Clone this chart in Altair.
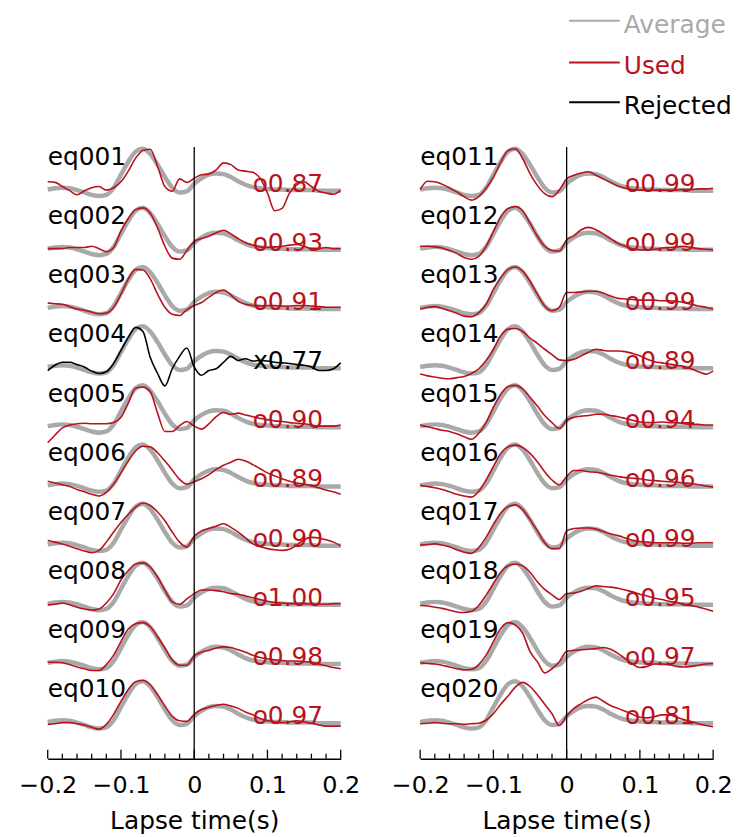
import altair as alt
import pandas as pd

# ---------------- data ----------------
T = [-0.20, -0.19, -0.18, -0.17, -0.16, -0.15, -0.14, -0.13, -0.12, -0.11,
     -0.10, -0.09, -0.08, -0.07, -0.06, -0.05, -0.04, -0.03, -0.02, -0.01,
     0.00, 0.01, 0.02, 0.03, 0.04, 0.05, 0.06, 0.07, 0.08, 0.09,
     0.10, 0.11, 0.12, 0.13, 0.14, 0.15, 0.16, 0.17, 0.18, 0.19, 0.20]

AVG = [0.00, 0.02, 0.03, 0.02, -0.01, -0.05, -0.09, -0.11, -0.09, 0.03,
       0.25, 0.47, 0.64, 0.69, 0.60, 0.42, 0.21, 0.03, -0.05, -0.03,
       0.10, 0.19, 0.25, 0.27, 0.26, 0.21, 0.14, 0.08, 0.04, 0.02,
       0.01, 0.00, 0.00, -0.01, -0.01, -0.01, -0.01, -0.02, -0.02, -0.02, -0.02]

eq001 = [0.13, 0.12, 0.05, -0.02, -0.09, -0.02, 0.03, 0.05, -0.01, 0.03, 0.13, 0.31, 0.53, 0.66, 0.68, 0.39, 0.05, -0.03, 0.18, 0.12, 0.19, 0.25, 0.26, 0.33, 0.45, 0.42, 0.33, 0.31, 0.29, 0.19, -0.06, -0.36, -0.32, -0.06, 0.08, 0.13, 0.05, -0.03, -0.06, -0.08, -0.01]
eq002 = [0.00, 0.00, 0.00, 0.02, 0.02, 0.02, 0.04, 0.00, -0.05, 0.02, 0.30, 0.51, 0.66, 0.69, 0.60, 0.35, 0.04, -0.16, -0.18, -0.03, 0.12, 0.17, 0.21, 0.27, 0.31, 0.25, 0.17, 0.10, 0.06, 0.03, 0.02, 0.03, 0.04, 0.06, 0.07, 0.04, 0.00, 0.00, 0.02, 0.00, 0.00]
eq003 = [0.08, 0.07, 0.06, 0.02, -0.02, -0.04, -0.07, -0.10, -0.09, 0.01, 0.23, 0.49, 0.65, 0.64, 0.49, 0.23, 0.01, -0.11, -0.13, -0.03, 0.04, 0.09, 0.18, 0.26, 0.30, 0.22, 0.11, 0.06, 0.04, 0.03, 0.04, 0.04, 0.03, 0.03, 0.04, 0.04, 0.03, 0.02, 0.01, 0.01, 0.01]
eq004 = [-0.06, 0.03, 0.08, 0.08, 0.04, 0.00, -0.07, -0.11, -0.08, 0.06, 0.28, 0.50, 0.67, 0.60, 0.16, -0.11, -0.32, -0.03, 0.18, 0.32, 0.00, -0.14, -0.06, -0.03, 0.08, 0.18, 0.11, 0.14, 0.10, 0.11, 0.10, 0.08, 0.07, 0.06, 0.04, 0.03, 0.00, -0.06, -0.06, -0.03, 0.07]
eq005 = [-0.28, -0.15, -0.03, 0.02, 0.04, 0.05, 0.04, 0.04, 0.04, 0.06, 0.15, 0.39, 0.64, 0.66, 0.58, 0.22, -0.09, -0.09, 0.01, 0.08, 0.00, -0.05, 0.04, 0.16, 0.23, 0.20, 0.22, 0.19, 0.16, 0.13, 0.11, 0.09, 0.08, 0.06, 0.05, 0.04, 0.02, 0.00, 0.00, 0.00, 0.02]
eq006 = [0.07, 0.04, 0.01, -0.02, -0.07, -0.11, -0.15, -0.18, -0.12, 0.02, 0.21, 0.41, 0.58, 0.66, 0.65, 0.55, 0.41, 0.26, 0.10, 0.02, 0.06, 0.11, 0.18, 0.27, 0.34, 0.39, 0.44, 0.41, 0.35, 0.28, 0.21, 0.16, 0.11, 0.07, 0.04, 0.02, -0.01, -0.04, -0.08, -0.11, -0.15]
eq007 = [0.07, 0.04, 0.01, -0.03, -0.07, -0.11, -0.14, -0.10, 0.04, 0.21, 0.37, 0.51, 0.63, 0.70, 0.66, 0.55, 0.40, 0.21, 0.04, -0.04, 0.14, 0.23, 0.27, 0.31, 0.35, 0.29, 0.21, 0.11, 0.01, -0.04, -0.07, -0.09, -0.10, -0.08, -0.01, 0.08, 0.12, 0.11, 0.08, 0.04, -0.02]
eq008 = [-0.02, -0.01, 0.01, -0.02, -0.06, -0.09, -0.11, -0.09, 0.01, 0.17, 0.40, 0.56, 0.67, 0.69, 0.62, 0.45, 0.23, 0.03, -0.01, 0.08, 0.17, 0.23, 0.23, 0.22, 0.20, 0.17, 0.16, 0.13, 0.10, 0.07, 0.04, 0.02, 0.01, 0.00, 0.00, 0.00, -0.01, -0.01, -0.01, 0.00, 0.00]
eq009 = [0.01, 0.01, 0.00, -0.03, -0.07, -0.10, -0.13, -0.13, -0.03, 0.13, 0.36, 0.57, 0.66, 0.68, 0.61, 0.44, 0.25, 0.05, -0.04, -0.04, 0.12, 0.18, 0.21, 0.25, 0.27, 0.26, 0.22, 0.18, 0.13, 0.09, 0.07, 0.05, 0.04, 0.03, 0.03, 0.02, 0.01, -0.02, -0.05, -0.08, -0.10]
eq010 = [-0.04, -0.03, -0.01, -0.01, -0.03, -0.05, -0.09, -0.12, -0.04, 0.13, 0.35, 0.55, 0.68, 0.70, 0.63, 0.46, 0.27, 0.10, 0.02, 0.01, 0.13, 0.21, 0.25, 0.28, 0.30, 0.27, 0.23, 0.17, 0.12, 0.06, 0.02, 0.00, -0.01, 0.00, 0.02, 0.00, -0.02, -0.05, -0.07, -0.07, -0.07]
eq011 = [0.00, 0.14, 0.13, 0.09, 0.03, -0.04, -0.12, -0.18, -0.12, 0.02, 0.21, 0.46, 0.66, 0.69, 0.52, 0.27, 0.07, -0.07, -0.12, -0.01, 0.18, 0.24, 0.28, 0.30, 0.24, 0.18, 0.12, 0.06, 0.02, 0.00, -0.01, -0.01, -0.01, -0.01, -0.01, -0.01, 0.00, 0.00, 0.01, 0.01, 0.02]
eq012 = [0.04, 0.04, 0.03, 0.01, -0.03, -0.08, -0.15, -0.18, -0.13, 0.04, 0.29, 0.54, 0.68, 0.71, 0.64, 0.43, 0.21, 0.04, -0.03, -0.04, 0.15, 0.22, 0.32, 0.36, 0.32, 0.25, 0.17, 0.09, 0.04, 0.00, -0.02, -0.02, -0.01, 0.01, 0.02, 0.03, 0.04, 0.02, 0.00, -0.01, -0.02]
eq013 = [-0.02, 0.01, 0.02, -0.01, -0.05, -0.09, -0.14, -0.15, -0.08, 0.06, 0.31, 0.51, 0.65, 0.69, 0.62, 0.45, 0.23, 0.03, -0.05, 0.01, 0.26, 0.26, 0.27, 0.28, 0.28, 0.25, 0.20, 0.16, 0.15, 0.14, 0.13, 0.13, 0.13, 0.12, 0.12, 0.11, 0.09, 0.06, 0.03, 0.01, -0.02]
eq014 = [-0.12, -0.15, -0.17, -0.19, -0.20, -0.18, -0.16, -0.11, -0.03, 0.11, 0.30, 0.53, 0.64, 0.65, 0.60, 0.49, 0.40, 0.30, 0.21, 0.12, 0.11, 0.13, 0.19, 0.25, 0.30, 0.28, 0.27, 0.27, 0.26, 0.23, 0.19, 0.13, 0.09, 0.07, 0.05, 0.03, 0.01, -0.03, -0.08, -0.12, -0.07]
eq015 = [0.02, -0.01, -0.04, -0.07, -0.09, -0.13, -0.18, -0.22, -0.12, 0.06, 0.32, 0.54, 0.67, 0.69, 0.63, 0.49, 0.34, 0.18, 0.06, -0.04, 0.10, 0.15, 0.17, 0.18, 0.20, 0.20, 0.18, 0.16, 0.13, 0.10, 0.07, 0.06, 0.06, 0.07, 0.06, 0.06, 0.04, 0.03, 0.03, 0.02, 0.02]
eq016 = [0.00, -0.02, -0.04, -0.07, -0.11, -0.15, -0.18, -0.20, -0.10, 0.09, 0.32, 0.54, 0.65, 0.68, 0.64, 0.54, 0.40, 0.23, 0.09, 0.01, 0.15, 0.25, 0.25, 0.23, 0.22, 0.20, 0.17, 0.15, 0.13, 0.12, 0.11, 0.09, 0.08, 0.07, 0.06, 0.05, 0.04, 0.03, 0.01, -0.01, -0.03]
eq017 = [-0.01, 0.00, 0.01, -0.01, -0.04, -0.09, -0.13, -0.15, -0.05, 0.12, 0.34, 0.53, 0.64, 0.67, 0.59, 0.42, 0.23, 0.03, -0.07, -0.07, 0.23, 0.27, 0.28, 0.28, 0.26, 0.22, 0.18, 0.15, 0.11, 0.07, 0.05, 0.04, 0.03, 0.03, 0.03, 0.03, 0.02, 0.02, 0.03, 0.03, 0.03]
eq018 = [-0.03, -0.04, -0.06, -0.08, -0.11, -0.14, -0.15, -0.13, -0.03, 0.14, 0.34, 0.53, 0.64, 0.67, 0.64, 0.53, 0.37, 0.24, 0.15, 0.07, 0.17, 0.18, 0.21, 0.26, 0.30, 0.29, 0.28, 0.26, 0.23, 0.20, 0.16, 0.13, 0.09, 0.07, 0.04, 0.02, -0.01, -0.03, -0.06, -0.09, -0.13]
eq019 = [0.00, -0.01, -0.02, -0.04, -0.07, -0.10, -0.12, -0.11, -0.03, 0.13, 0.36, 0.58, 0.68, 0.64, 0.50, 0.19, 0.02, -0.17, -0.10, 0.02, 0.19, 0.21, 0.22, 0.23, 0.24, 0.26, 0.23, 0.16, 0.07, -0.02, -0.08, -0.06, -0.02, -0.02, -0.03, -0.06, -0.07, -0.06, -0.04, -0.02, -0.01]
eq020 = [-0.03, -0.02, -0.01, -0.02, -0.03, -0.03, -0.04, -0.03, -0.02, 0.03, 0.14, 0.30, 0.44, 0.59, 0.67, 0.60, 0.46, 0.30, 0.14, -0.06, 0.10, 0.23, 0.31, 0.38, 0.42, 0.35, 0.28, 0.23, 0.18, 0.13, 0.08, 0.07, 0.09, 0.12, 0.12, 0.08, 0.04, 0.01, -0.03, -0.06, -0.08]

LEFT_NAMES = ["eq001", "eq002", "eq003", "eq004", "eq005", "eq006", "eq007", "eq008", "eq009", "eq010"]
RIGHT_NAMES = ["eq011", "eq012", "eq013", "eq014", "eq015", "eq016", "eq017", "eq018", "eq019", "eq020"]
LEFT_WAVES = [eq001, eq002, eq003, eq004, eq005, eq006, eq007, eq008, eq009, eq010]
RIGHT_WAVES = [eq011, eq012, eq013, eq014, eq015, eq016, eq017, eq018, eq019, eq020]
LEFT_CC = [0.87, 0.93, 0.91, 0.77, 0.90, 0.89, 0.90, 1.00, 0.98, 0.97]
RIGHT_CC = [0.99, 0.99, 0.99, 0.89, 0.94, 0.96, 0.99, 0.95, 0.97, 0.81]
LEFT_STATUS = ["Used", "Used", "Used", "Rejected", "Used", "Used", "Used", "Used", "Used", "Used"]
RIGHT_STATUS = ["Used"] * 10

TICK_MINOR = [-0.18, -0.16, -0.14, -0.12, -0.08, -0.06, -0.04, -0.02,
              0.02, 0.04, 0.06, 0.08, 0.12, 0.14, 0.16, 0.18]
TICK_MAJOR = [-0.2, -0.1, 0.0, 0.1, 0.2]

LEGEND_LABELS = ["Average", "Used", "Rejected"]

# ---------------- styles ----------------
GRAY = "#a9a9a9"
RED = "#b8121c"
FONT = "DejaVu Sans"
W, H = 295, 616
YDOM = [-9.62, 0.72]


def panel(names, waves, ccs, status, with_legend=False):
    rows = []
    labs = []
    for k, (n, w, c, s) in enumerate(zip(names, waves, ccs, status)):
        off = -k
        for t, a, g in zip(T, w, AVG):
            rows.append({"eq": n, "t": t, "y": a + off, "avg": g + off, "status": s})
        mark = "o" if s == "Used" else "x"
        labs.append({"eq": n, "ly": off + 0.55, "cy": off + 0.1,
                     "cc": f"{mark}{c:.2f}", "status": s})
    df = pd.DataFrame(rows)
    lab = pd.DataFrame(labs)

    xs = alt.Scale(domain=[-0.2, 0.2], nice=False, zero=False)
    ys = alt.Scale(domain=YDOM, nice=False, zero=False)
    xenc = alt.X("t:Q", scale=xs, title="Lapse time(s)",
                 axis=alt.Axis(values=TICK_MAJOR, format="~g", ticks=False, tickSize=0,
                               grid=False, domain=True, domainColor="black",
                               domainWidth=1.5, labelFont=FONT, labelFontSize=24,
                               labelColor="black", labelPadding=15,
                               titleFont=FONT, titleFontSize=25, titleFontWeight="normal",
                               titleColor="black", titlePadding=11,
                               labelFlush=False))
    col = alt.Color("status:N", scale=alt.Scale(domain=["Used", "Rejected"], range=[RED, "black"]),
                    legend=None)

    gray = alt.Chart(df).mark_line(color=GRAY, strokeWidth=4.5, interpolate="monotone").encode(
        x=xenc, y=alt.Y("avg:Q", scale=ys, axis=None), detail="eq:N")
    trace = alt.Chart(df).mark_line(strokeWidth=1.6, interpolate="monotone").encode(
        x=xenc, y=alt.Y("y:Q", scale=ys, axis=None), detail="eq:N", color=col)
    zero = alt.Chart(pd.DataFrame({"t": [0.0]})).mark_rule(color="black", strokeWidth=1.3).encode(
        x=xenc)
    minor = alt.Chart(pd.DataFrame({"t": TICK_MINOR})).mark_rule(color="black", strokeWidth=1.3).encode(
        x=xenc, y=alt.value(H), y2=alt.value(H - 5))
    major = alt.Chart(pd.DataFrame({"t": TICK_MAJOR})).mark_rule(color="black", strokeWidth=1.3).encode(
        x=xenc, y=alt.value(H), y2=alt.value(H - 9))
    names_txt = alt.Chart(lab).mark_text(align="left", baseline="middle", font=FONT,
                                         fontSize=25, color="black").encode(
        x=alt.datum(-0.2, scale=xs), y=alt.Y("ly:Q", scale=ys, axis=None), text="eq:N")
    cc_txt = alt.Chart(lab).mark_text(align="right", baseline="middle", font=FONT,
                                      fontSize=25).encode(
        x=alt.datum(0.176, scale=xs), y=alt.Y("cy:Q", scale=ys, axis=None), text="cc:N", color=col)

    layers = [gray, trace, zero, minor, major, names_txt, cc_txt]
    if with_legend:
        leg = pd.DataFrame({"label": LEGEND_LABELS, "col": [GRAY, RED, "black"],
                            "py": [-127, -85, -45]})
        leg_line = alt.Chart(leg).mark_rule(strokeWidth=2).encode(
            x=alt.value(150), x2=alt.value(201),
            y=alt.Y("py:Q", scale=None), color=alt.Color("col:N", scale=None))
        leg_txt = alt.Chart(leg).mark_text(align="left", baseline="middle", font=FONT,
                                           fontSize=25, dy=4).encode(
            x=alt.value(205), y=alt.Y("py:Q", scale=None), text="label:N",
            color=alt.Color("col:N", scale=None))
        layers += [leg_line, leg_txt]
    return alt.layer(*layers).properties(width=W, height=H)


left = panel(LEFT_NAMES, LEFT_WAVES, LEFT_CC, LEFT_STATUS)
right = panel(RIGHT_NAMES, RIGHT_WAVES, RIGHT_CC, RIGHT_STATUS, with_legend=True)

chart = alt.hconcat(left, right, spacing=80, bounds="flush").properties(
    padding={"left": 10, "top": 2, "right": 0, "bottom": 0},
    background="white",
).configure_view(stroke=None)

chart.save("out.html", embed_options={"renderer": "svg", "actions": False})
